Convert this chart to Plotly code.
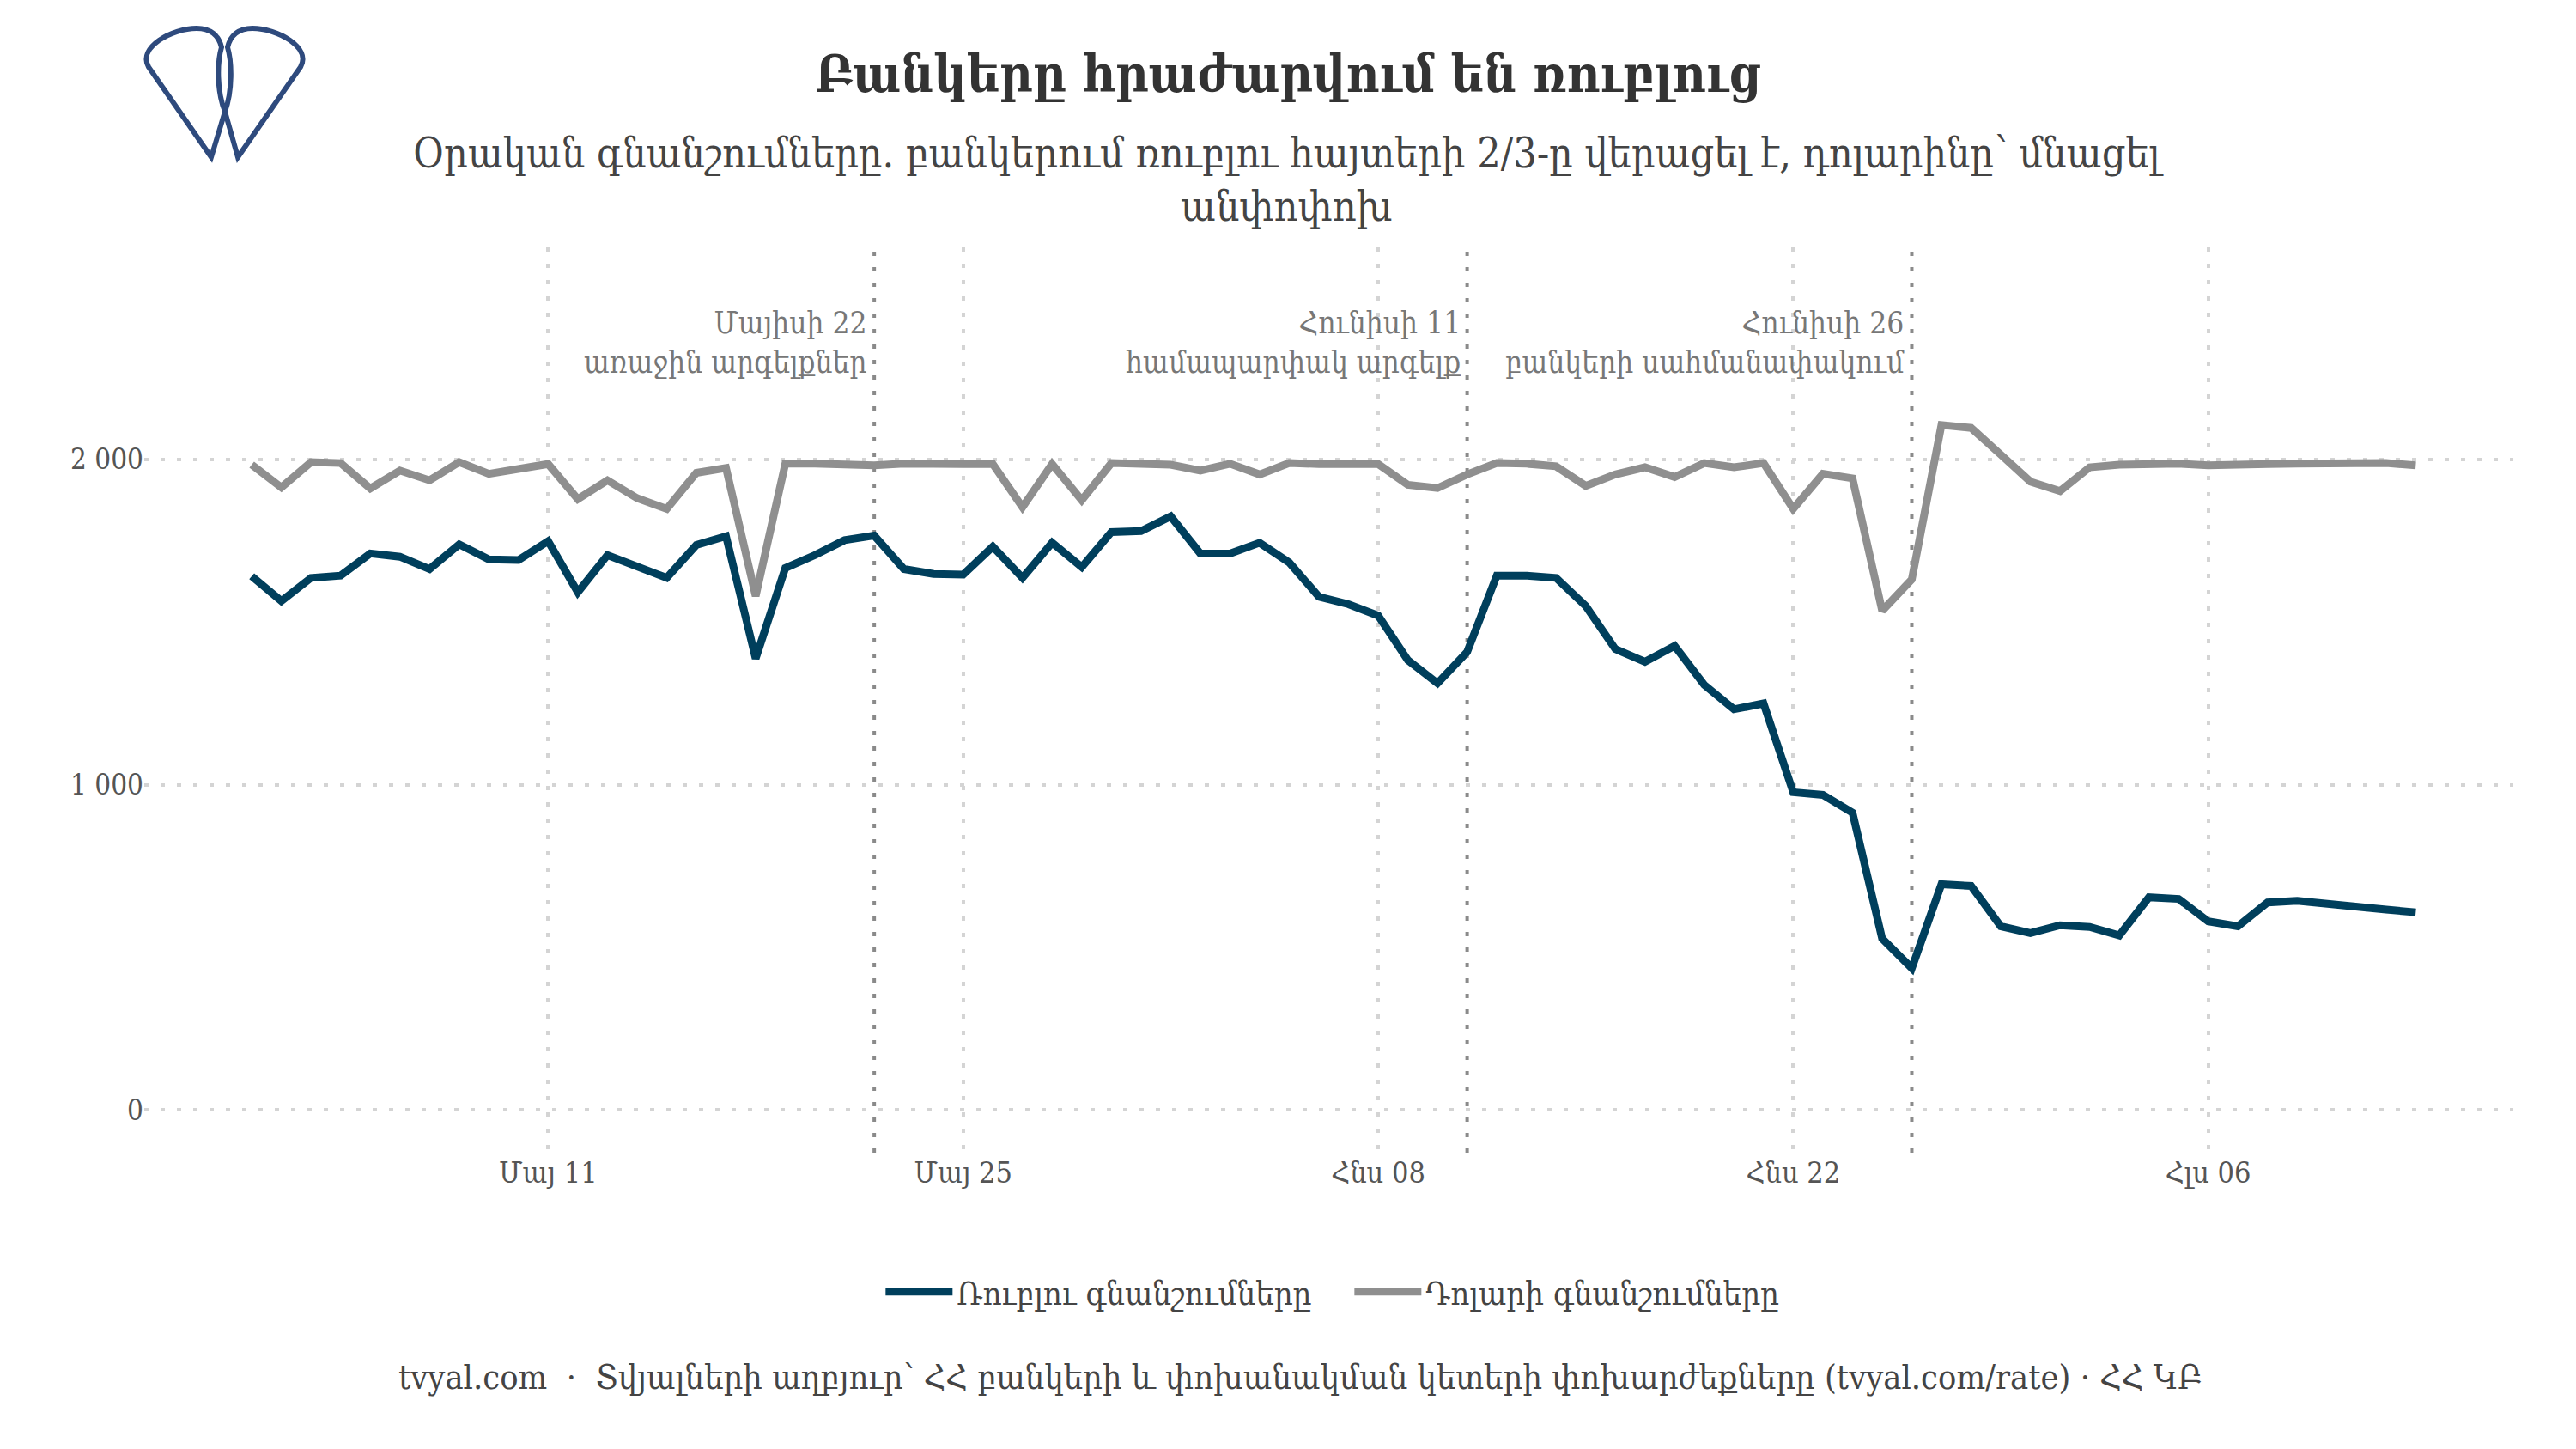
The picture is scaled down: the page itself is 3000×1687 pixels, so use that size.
import pandas as pd
import plotly.graph_objects as go

# ---------------- data ----------------
dates = pd.date_range("2022-05-01", "2022-07-13", freq="D")

rub_quotes = [
    1641, 1565, 1636, 1643, 1711, 1701, 1663, 1739, 1693, 1691,
    1749, 1592, 1706, 1671, 1636, 1737, 1764, 1388, 1666, 1706,
    1752, 1766, 1663, 1648, 1646, 1732, 1636, 1744, 1669, 1777,
    1780,
    1825, 1711, 1711, 1744, 1683, 1578, 1555, 1520, 1383, 1312,
    1408, 1643, 1643, 1636, 1550, 1417, 1378, 1427, 1307, 1232,
    1250, 977, 969, 914, 527, 436, 694, 689, 565, 544,
    568, 563, 537, 654, 649, 580, 565, 638, 643, 633,
    621, 616, 608,
]

usd_quotes = [
    1984, 1914, 1992, 1989, 1911, 1966, 1936, 1992, 1956, 1974,
    1986, 1878, 1936, 1881, 1848, 1959, 1974, 1580, 1987, 1987,
    1986, 1982, 1987, 1984, 1986, 1986, 1853, 1986, 1875, 1989,
    1984,
    1984, 1966, 1987, 1954, 1989, 1986, 1986, 1986, 1922, 1912,
    1954, 1989, 1987, 1979, 1919, 1954, 1976, 1946, 1989, 1976,
    1989, 1848, 1956, 1942, 1535, 1631, 2106, 2097, 2015, 1932,
    1903, 1976, 1984, 1986, 1987, 1982, 1986, 1986, 1987, 1986,
    1986, 1989, 1982,
]

series_names = ["Ռուբլու գնանշումները", "Դոլարի գնանշումները"]

x_tick_vals = ["2022-05-11", "2022-05-25", "2022-06-08", "2022-06-22", "2022-07-06"]
x_tick_text = ["Մայ 11", "Մայ 25", "Հնս 08", "Հնս 22", "Հլս 06"]
y_tick_vals = [0, 1000, 2000]
y_tick_text = ["0", "1 000", "2 000"]

event_dates = ["2022-05-22", "2022-06-11", "2022-06-26"]
event_labels = [
    "Մայիսի 22<br>առաջին արգելքներ",
    "Հունիսի 11<br>համապարփակ արգելք",
    "Հունիսի 26<br>բանկերի սահմանափակում",
]

title_text = "<b>Բանկերը հրաժարվում են ռուբլուց</b>"
subtitle_text = ("Օրական գնանշումները. բանկերում ռուբլու հայտերի 2/3-ը վերացել է, դոլարինը՝ մնացել"
                 "<br>անփոփոխ")
caption_text = ("tvyal.com  ·  Տվյալների աղբյուր՝ ՀՀ բանկերի և փոխանակման կետերի "
                "փոխարժեքները (tvyal.com/rate) · ՀՀ ԿԲ")

# ---------------- style ----------------
FONT = "DejaVu Serif Condensed, DejaVu Serif, serif"
BLUE = "#003f5c"
GREY = "#8f8f8f"
W, H = 3000, 1687
ML, MR, MT, MB = 168, 73, 288, 345
PW, PH = W - ML - MR, H - MT - MB


def px2paper(px, py):
    return (px - ML) / PW, (H - MB - py) / PH


fig = go.Figure()
fig.add_trace(go.Scatter(x=dates, y=rub_quotes, mode="lines", name=series_names[0],
                         line=dict(color=BLUE, width=9)))
fig.add_trace(go.Scatter(x=dates, y=usd_quotes, mode="lines", name=series_names[1],
                         line=dict(color=GREY, width=9)))

shapes = []
for d in event_dates:
    shapes.append(dict(type="line", xref="x", yref="paper", x0=d, x1=d, y0=0, y1=1,
                       line=dict(color="#8a8a8a", width=4, dash="5px,13px"), layer="between"))

# logo (two crossing teardrops)
logo_pts = [
    ("M", [(246, 183)]),
    ("L", [(173, 78)]),
    ("C", [(160, 55), (200, 33), (229, 33)]),
    ("C", [(246, 33), (255, 42), (258, 55)]),
    ("C", [(253, 72), (252, 105), (262, 130)]),
    ("L", [(277, 183)]),
    ("L", [(350, 78)]),
    ("C", [(363, 55), (323, 33), (294, 33)]),
    ("C", [(277, 33), (268, 42), (265, 55)]),
    ("C", [(270, 72), (271, 105), (262, 130)]),
    ("Z", []),
]
path = ""
for cmd, pts in logo_pts:
    path += cmd + " "
    for (px, py) in pts:
        a, b = px2paper(px, py)
        path += f"{a:.5f},{b:.5f} "
shapes.append(dict(type="path", xref="paper", yref="paper", path=path.strip(),
                   line=dict(color="#2e4a7d", width=6), fillcolor="rgba(0,0,0,0)"))

annotations = []
ay = px2paper(0, 399)[1]
for d, t in zip(event_dates, event_labels):
    annotations.append(dict(x=d, xref="x", y=ay, yref="paper", text=t, showarrow=False,
                            xanchor="right", yanchor="middle", align="right", xshift=-6,
                            font=dict(family=FONT, size=35, color="#777777")))

annotations.append(dict(x=px2paper(1500, 0)[0], xref="paper", y=px2paper(0, 209)[1], yref="paper",
                        text=subtitle_text, showarrow=False, xanchor="center", yanchor="middle",
                        align="center", font=dict(family=FONT, size=48, color="#444444")))
annotations.append(dict(x=px2paper(1514, 0)[0], xref="paper", y=px2paper(0, 1603)[1], yref="paper",
                        text=caption_text, showarrow=False, xanchor="center", yanchor="middle",
                        font=dict(family=FONT, size=39.5, color="#444444")))

grid = dict(showgrid=True, gridcolor="#d4d4d4", gridwidth=4, griddash="5px,14px",
            zeroline=False, showline=False, ticks="")

fig.update_layout(
    width=W, height=H,
    margin=dict(l=ML, r=MR, t=MT, b=MB),
    paper_bgcolor="white", plot_bgcolor="white",
    font=dict(family=FONT, size=34, color="#555555"),
    title=dict(text=title_text, x=0.5, xref="container", xanchor="center",
               y=1 - 86 / H, yref="container", yanchor="middle",
               font=dict(family=FONT, size=59, color="#333333")),
    xaxis=dict(type="date", range=["2022-04-27 09:00", "2022-07-16 07:00"],
               tickvals=x_tick_vals, ticktext=x_tick_text,
               tickfont=dict(family=FONT, size=34, color="#555555"), **grid),
    yaxis=dict(range=[-131, 2652], tickvals=y_tick_vals, ticktext=y_tick_text,
               tickfont=dict(family=FONT, size=33, color="#555555"), **grid),
    legend=dict(orientation="h", x=0.509, xanchor="center", y=px2paper(0, 1504)[1],
                yanchor="middle", font=dict(family=FONT, size=38, color="#444444"),
                itemwidth=78, entrywidth=453, entrywidthmode="pixels",
                bgcolor="rgba(0,0,0,0)"),
    shapes=shapes,
    annotations=annotations,
    showlegend=True,
)

fig.write_html("out.html")
